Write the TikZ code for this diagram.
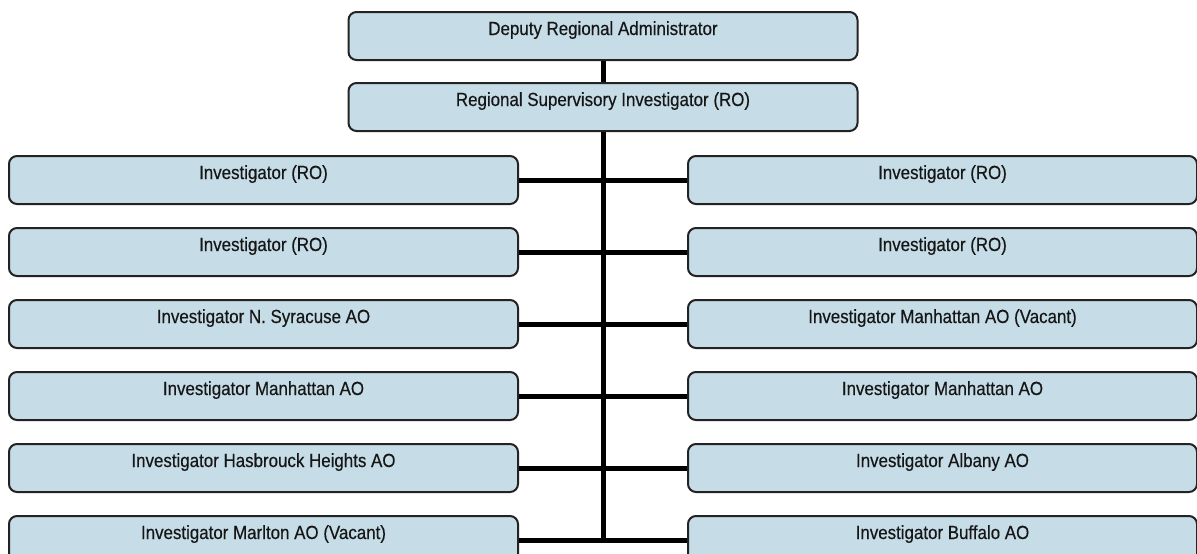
\documentclass[tikz,border=0pt]{standalone}
\usepackage{fontspec}
\setmainfont{Liberation Sans}[FakeStretch=0.89,FakeBold=0.4]
\definecolor{boxfill}{RGB}{198,221,232}
\definecolor{boxline}{RGB}{35,35,35}
\definecolor{txt}{RGB}{22,22,22}
\begin{document}
\begin{tikzpicture}[x=1pt,y=-1pt,
  post/.style={draw=boxline, line width=2pt, fill=boxfill, rounded corners=8pt,
    minimum width=509pt, inner sep=0pt, text height=23pt, text depth=25pt,
    font=\fontsize{19}{21}\selectfont, text=txt, anchor=north west},
  link/.style={line width=5pt, draw=black}]
\useasboundingbox (0,0) rectangle (1197,554);

% management chain
\node[post] (dra) at (347.5,11) {Deputy Regional Administrator};
\node[post] (rsi) at (347.5,82) {Regional Supervisory Investigator (RO)};

% investigators, left column
\node[post] (l1) at (8,155) {Investigator (RO)};
\node[post] (l2) at (8,227) {Investigator (RO)};
\node[post] (l3) at (8,299) {Investigator N. Syracuse AO};
\node[post] (l4) at (8,371) {Investigator Manhattan AO};
\node[post] (l5) at (8,443) {Investigator Hasbrouck Heights AO};
\node[post] (l6) at (8,515) {Investigator Marlton AO (Vacant)};

% investigators, right column
\node[post] (r1) at (687,155) {Investigator (RO)};
\node[post] (r2) at (687,227) {Investigator (RO)};
\node[post] (r3) at (687,299) {Investigator Manhattan AO (Vacant)};
\node[post] (r4) at (687,371) {Investigator Manhattan AO};
\node[post] (r5) at (687,443) {Investigator Albany AO};
\node[post] (r6) at (687,515) {Investigator Buffalo AO};

% connectors
\draw[link] (dra.south) -- (rsi.north);
\coordinate (trunkend) at (rsi.south |- l6.east);
\draw[link] (rsi.south) -- (trunkend);
\foreach \i in {1,...,6}
  \draw[link] (l\i.east) -- (r\i.west);
\end{tikzpicture}
\end{document}
